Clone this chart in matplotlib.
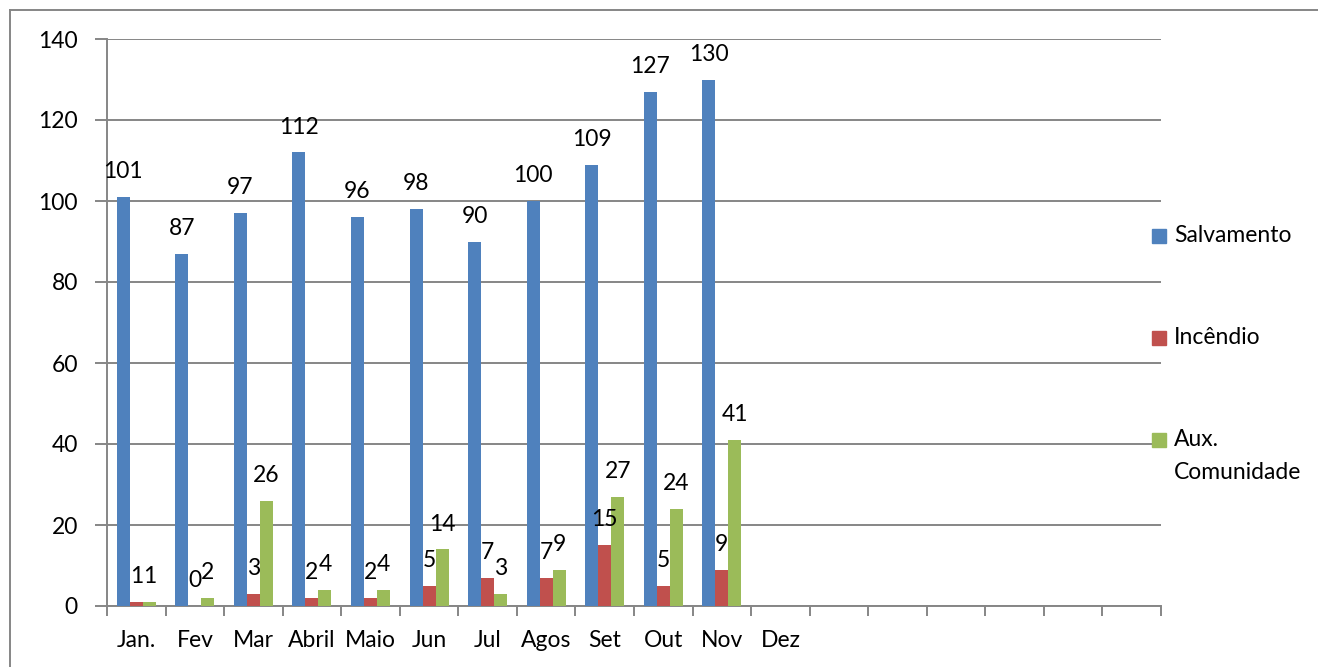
import matplotlib.pyplot as plt
from matplotlib.lines import Line2D
from matplotlib.patches import Rectangle
import numpy as np

plt.rcParams['font.family'] = ['Lato', 'DejaVu Sans']

meses = ["Jan.", "Fev", "Mar", "Abril", "Maio", "Jun", "Jul", "Agos", "Set", "Out", "Nov", "Dez",
         "", "", "", "", "", ""]
series = ["Salvamento", "Incêndio", "Aux.\nComunidade"]
salvamento = [101, 87, 97, 112, 96, 98, 90, 100, 109, 127, 130]
incendio = [1, 0, 3, 2, 2, 5, 7, 7, 15, 5, 9]
aux_comunidade = [1, 2, 26, 4, 4, 14, 3, 9, 27, 24, 41]
cores = ["#4F81BD", "#C0504D", "#9BBB59"]

W, H, DPI = 1318, 667, 100
FS = 16.5
fig = plt.figure(figsize=(W / DPI, H / DPI), dpi=DPI)
ax = fig.add_axes([107 / W, 1 - 606 / H, (1161 - 107) / W, (606 - 39) / H])

n = len(meses)
largura = 1 / 4.5
x = np.arange(len(salvamento))
for i, (vals, cor) in enumerate(zip([salvamento, incendio, aux_comunidade], cores)):
    pos = x + (i - 1) * largura
    ax.bar(pos, vals, width=largura, color=cor, zorder=3)
    for px_, v in zip(pos, vals):
        ax.annotate(str(v), (px_, v), xytext=(0, 13.5), textcoords="offset points",
                    ha="center", va="baseline", fontsize=FS, zorder=4)

ax.set_xlim(-0.5, n - 0.5)
ax.set_ylim(0, 140)
ax.set_yticks(range(0, 141, 20))
ax.yaxis.grid(True, color="#868686", linewidth=1.4, zorder=0)
ax.tick_params(axis="y", length=9, width=1.4, color="#868686", pad=12, labelsize=FS)

ax.set_xticks(np.arange(n + 1) - 0.5)
ax.set_xticklabels([])
ax.set_xticks(np.arange(n), minor=True)
ax.set_xticklabels(meses, minor=True)
ax.tick_params(axis="x", which="major", length=7, width=1.4, color="#868686")
ax.tick_params(axis="x", which="minor", length=0, pad=17, labelsize=FS)

for s in ["top", "right"]:
    ax.spines[s].set_visible(False)
for s in ["left", "bottom"]:
    ax.spines[s].set_color("#868686")
    ax.spines[s].set_linewidth(1.4)

# legenda
leg_y = [236, 338, 440]
for yy, cor, nome in zip(leg_y, cores, series):
    fig.patches.append(Rectangle((1152 / W, 1 - (yy + 7) / H), 14 / W, 14 / H,
                                 transform=fig.transFigure, color=cor))
    if "\n" in nome:
        fig.text(1174 / W, 1 - (yy - 11) / H, nome, fontsize=FS, va="top", linespacing=1.7)
    else:
        fig.text(1174 / W, 1 - yy / H, nome, fontsize=FS, va="center")

# moldura
fig.add_artist(Line2D([10 / W, 10 / W], [0, 1 - 10 / H], color="#868686", lw=1.4))
fig.add_artist(Line2D([10 / W, 1], [1 - 10 / H, 1 - 10 / H], color="#868686", lw=1.4))

fig.savefig("out.png", dpi=DPI)
